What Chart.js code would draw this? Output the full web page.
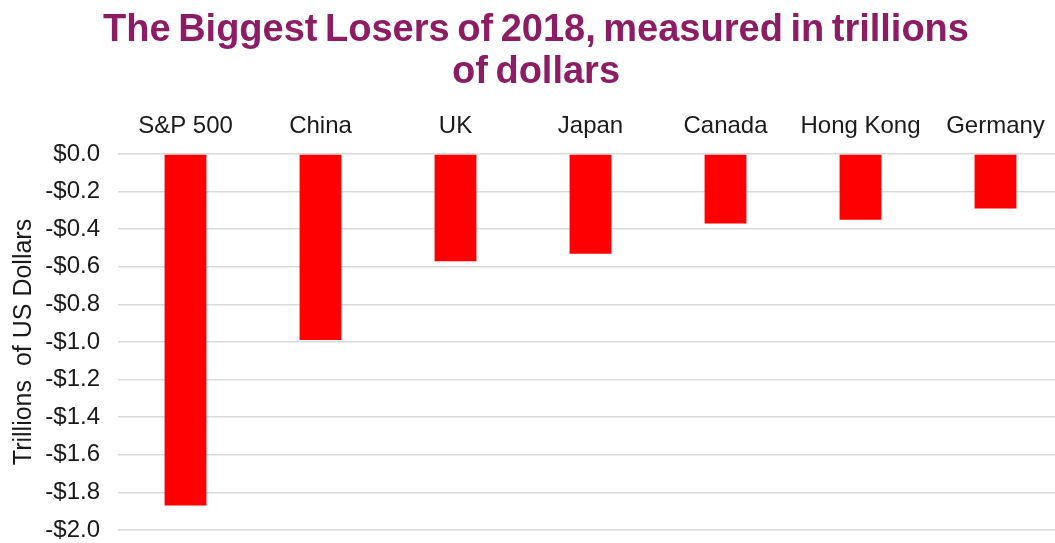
<!DOCTYPE html>
<html>
<head>
<meta charset="utf-8">
<script src="https://cdn.jsdelivr.net/npm/chart.js@4.4.0/dist/chart.umd.min.js"></script>
<style>
  html, body { margin: 0; padding: 0; background: #fff; overflow: hidden; }
  canvas { display: block; }
</style>
</head>
<body>
<canvas id="grafico" width="1063" height="543"></canvas>
<script>
// dados
const categorias = ['S&P 500', 'China', 'UK', 'Japan', 'Canada', 'Hong Kong', 'Germany'];
const perdas = [-1.87, -0.99, -0.57, -0.53, -0.37, -0.35, -0.29];
const tituloLinhas = ['The Biggest Losers of 2018, measured in trillions', 'of dollars'];
const tituloEixoY = 'Trillions  of US Dollars';

// formata como -$1.2
const formatarDolar = (v) => {
    const n = Math.abs(v) < 1e-9 ? 0 : v;
    return (n < 0 ? '-$' : '$') + Math.abs(n).toFixed(1);
};

const fonteBase = "'Liberation Sans', Arial, sans-serif";

// título desenhado à mão para poder apertar os espaços (estilo Excel)
const tituloPlugin = {
    id: 'tituloApertado',
    afterDraw(chart) {
        const ctx = chart.ctx;
        ctx.save();
        ctx.font = "bold 38px " + fonteBase;
        ctx.fillStyle = '#8c1c64';
        ctx.textAlign = 'center';
        ctx.textBaseline = 'alphabetic';
        if ('wordSpacing' in ctx) ctx.wordSpacing = '-3px';
        tituloLinhas.forEach((linha, i) => {
            ctx.fillText(linha, 536, 41 + i * 41.5);
        });
        ctx.restore();
    }
};

new Chart(document.getElementById('grafico'), {
    type: 'bar',
    data: {
        labels: categorias,
        datasets: [{
            label: 'Perdas',
            data: perdas,
            backgroundColor: '#ff0000',
            borderWidth: 0,
            categoryPercentage: 1,
            barPercentage: 0.31
        }]
    },
    options: {
        responsive: false,
        devicePixelRatio: 1,
        animation: false,
        layout: { padding: { left: 0, right: 0, top: 91, bottom: 13 } },
        plugins: {
            legend: { display: false },
            tooltip: { enabled: false },
            title: { display: false }
        },
        scales: {
            x: {
                position: 'top',
                grid: { display: false, drawTicks: false },
                border: { display: false },
                ticks: {
                    color: '#1a1a1a',
                    font: { family: fonteBase, size: 24 },
                    padding: 13,
                    maxRotation: 0
                },
                afterFit: (scale) => { scale.height = 63; }
            },
            y: {
                min: -2,
                max: 0,
                grid: { color: '#d9d9d9', lineWidth: 1.5, drawTicks: false },
                border: { display: false },
                ticks: {
                    stepSize: 0.2,
                    color: '#1a1a1a',
                    font: { family: fonteBase, size: 24 },
                    padding: 18,
                    callback: (v) => formatarDolar(v)
                },
                title: {
                    display: true,
                    text: tituloEixoY,
                    color: '#1a1a1a',
                    font: { family: fonteBase, size: 25 },
                    padding: { top: 9, bottom: 0 }
                },
                afterFit: (scale) => {
                    scale.width = 118;
                    scale.paddingTop = 0;
                    scale.paddingBottom = 0;
                }
            }
        }
    },
    plugins: [tituloPlugin]
});
</script>
</body>
</html>
